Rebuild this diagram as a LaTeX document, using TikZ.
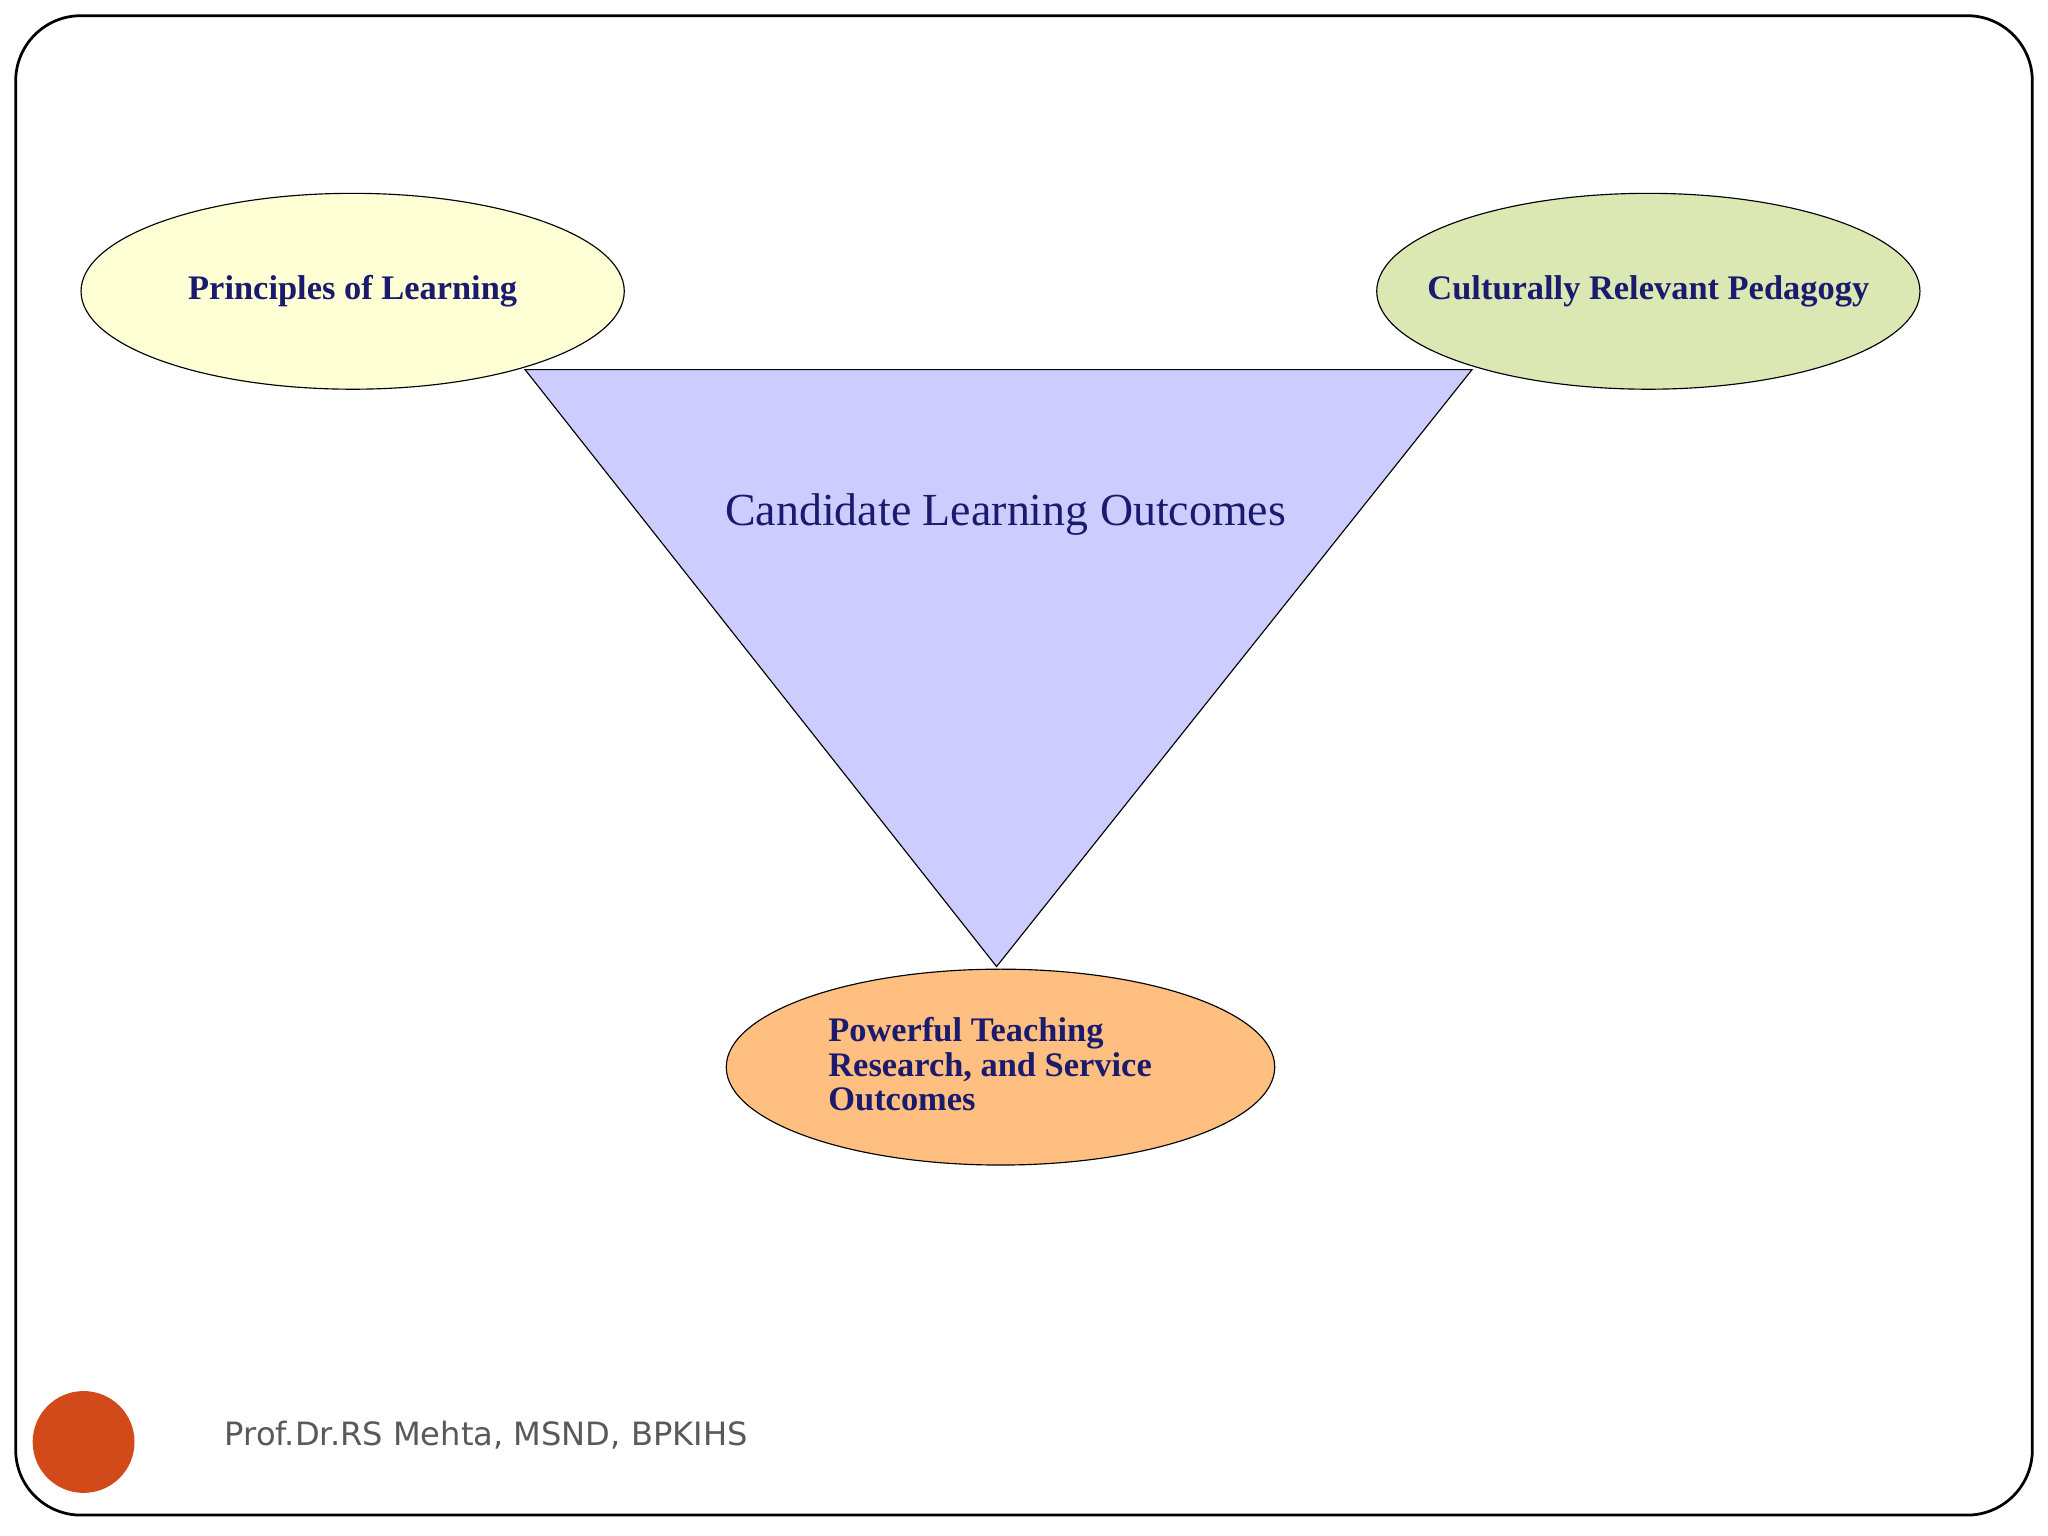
\documentclass[tikz,border=0pt]{standalone}
\usepackage{fontspec}
\usetikzlibrary{shapes.geometric}
\setmainfont{Liberation Serif}
\newfontfamily\footfont{DejaVu Sans}
\definecolor{navy}{HTML}{1A1A6E}
\definecolor{yel}{HTML}{FFFFD6}
\definecolor{grn}{HTML}{DCE8B4}
\definecolor{org}{HTML}{FFBF80}
\definecolor{tri}{HTML}{CCCCFF}
\definecolor{dot}{HTML}{D2491A}
\definecolor{foot}{HTML}{595959}
\begin{document}
\begin{tikzpicture}[x=0.02cm,y=-0.02cm,
  ell/.style={ellipse, draw=black, line width=0.5pt, minimum width=8.32cm, minimum height=3cm, inner sep=0pt},
  lbl/.style={text=navy, font=\bfseries\fontsize{15}{17}\selectfont}]
\useasboundingbox (0,0) rectangle (1568,1176);
\draw[line width=1.2pt, rounded corners=1cm] (12,12) rectangle (1556,1160);
\node[ell, fill=yel] (pl) at (270,223) {};
\node[lbl] at (pl) {Principles of Learning};
\node[ell, fill=grn] (cr) at (1262,223) {};
\node[lbl] at (cr) {Culturally Relevant Pedagogy};
\node[ell, fill=org, minimum width=8.4cm] (pt) at (766,817) {};
\node[lbl, align=left, anchor=west] at (628,815) {Powerful Teaching\\[-2pt]Research, and Service\\[-2pt]Outcomes};
\coordinate (a) at (402,283);
\coordinate (b) at (1127,283);
\coordinate (c) at (763,740);
\draw[fill=tri, line width=0.5pt] (a) -- (b) -- (c) -- cycle;
\node[text=navy, font=\fontsize{20}{24}\selectfont] (clo) at (770,394) {Candidate Learning Outcomes};
\node[circle, fill=dot, minimum size=1.56cm, inner sep=0pt] (dt) at (64,1104) {};
\node[anchor=west, text=foot, font=\footfont\fontsize{14}{16}\selectfont] (ft) at (166,1099) {Prof.Dr.RS Mehta, MSND, BPKIHS};
\end{tikzpicture}
\end{document}
